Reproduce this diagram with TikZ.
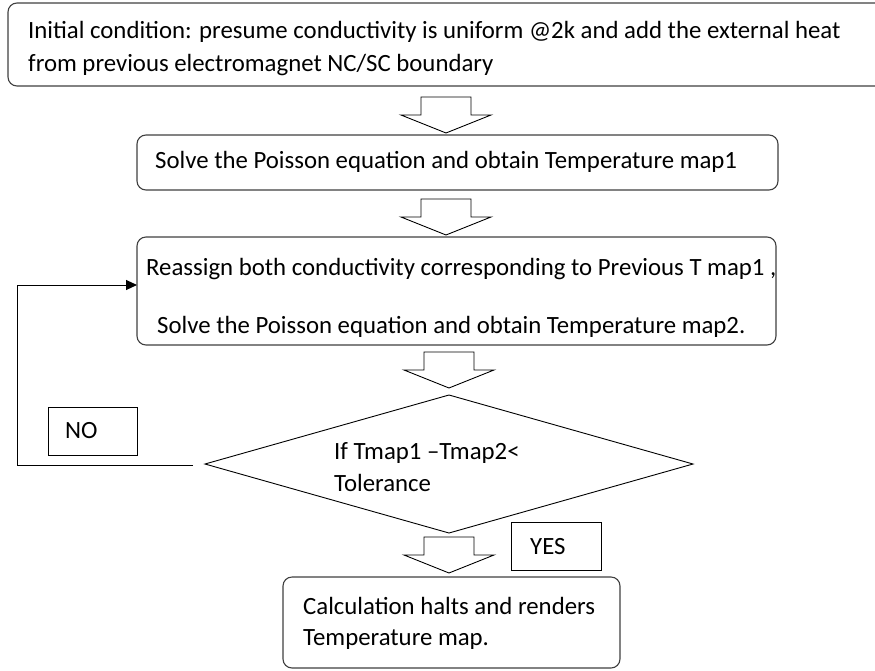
\documentclass[tikz,border=0pt]{standalone}
\usepackage{fontspec}
\setmainfont{Carlito}
\usetikzlibrary{arrows.meta}
\tikzset{
  stepbox/.style={draw=black!75, line width=1.1pt, rounded corners=9pt, fill=white},
  tagbox/.style={draw=black, line width=0.9pt},
  label/.style={anchor=base west, inner sep=0pt, font=\fontsize{24.8}{28}\selectfont},
  blockarrow/.style={draw=black, line width=0.9pt, fill=white, line join=miter},
  loop/.style={draw=black, line width=1pt, -{Triangle[length=11pt,width=10pt]}}
}
% hollow down arrow: centre x, top y
\newcommand{\downblock}[2]{%
  \draw[blockarrow] (#1-25,#2) -- (#1+25,#2) -- (#1+25,#2+18) -- (#1+45,#2+18)
    -- (#1,#2+36) -- (#1-45,#2+18) -- (#1-25,#2+18) -- cycle;}
\begin{document}
\begin{tikzpicture}[x=1pt,y=-1pt]
\useasboundingbox (0,0) rectangle (875,670);

% process boxes
\draw[stepbox] (8,3) rectangle (885,86);
\node[label] (t1a) at (28,38) {Initial condition: presume conductivity is uniform @2k and add the external heat};
\node[label] (t1b) at (28,71) {from previous electromagnet NC/SC boundary};

\draw[stepbox] (137,135) rectangle (778,190);
\node[label] (t2) at (155,168) {Solve the Poisson equation and obtain Temperature map1};

\draw[stepbox] (137,237) rectangle (776,345);
\coordinate (b3w) at (137,285);
\node[label] (t3a) at (146,275) {Reassign both conductivity corresponding to Previous T map1 ,};
\node[label] (t3b) at (157,333) {Solve the Poisson equation and obtain Temperature map2.};

% decision
\draw[draw=black, line width=0.9pt] (205,464) -- (449,395) -- (693,464) -- (449,533) -- cycle;
\coordinate (dw) at (193,465);
\node[label] (t4a) at (334,459) {If Tmap1 --Tmap2<};
\node[label] (t4b) at (334,491) {Tolerance};

% final box
\draw[stepbox] (283,577) rectangle (620,668);
\node[label] (t5a) at (303,614) {Calculation halts and renders};
\node[label] (t5b) at (303,645) {Temperature map.};

% answer tags
\draw[tagbox] (48,407) rectangle (137,455);
\node[label] (no) at (65,438) {NO};
\draw[tagbox] (511,522) rectangle (601,570);
\node[label] (yes) at (530,554) {YES};

% hollow arrows between steps
\downblock{446}{97}
\downblock{446}{199}
\downblock{449}{352}
\downblock{449}{537}

% NO feedback loop
\draw[loop] (dw) -- (17,465) -- (17,285) -- (b3w);
\end{tikzpicture}
\end{document}
